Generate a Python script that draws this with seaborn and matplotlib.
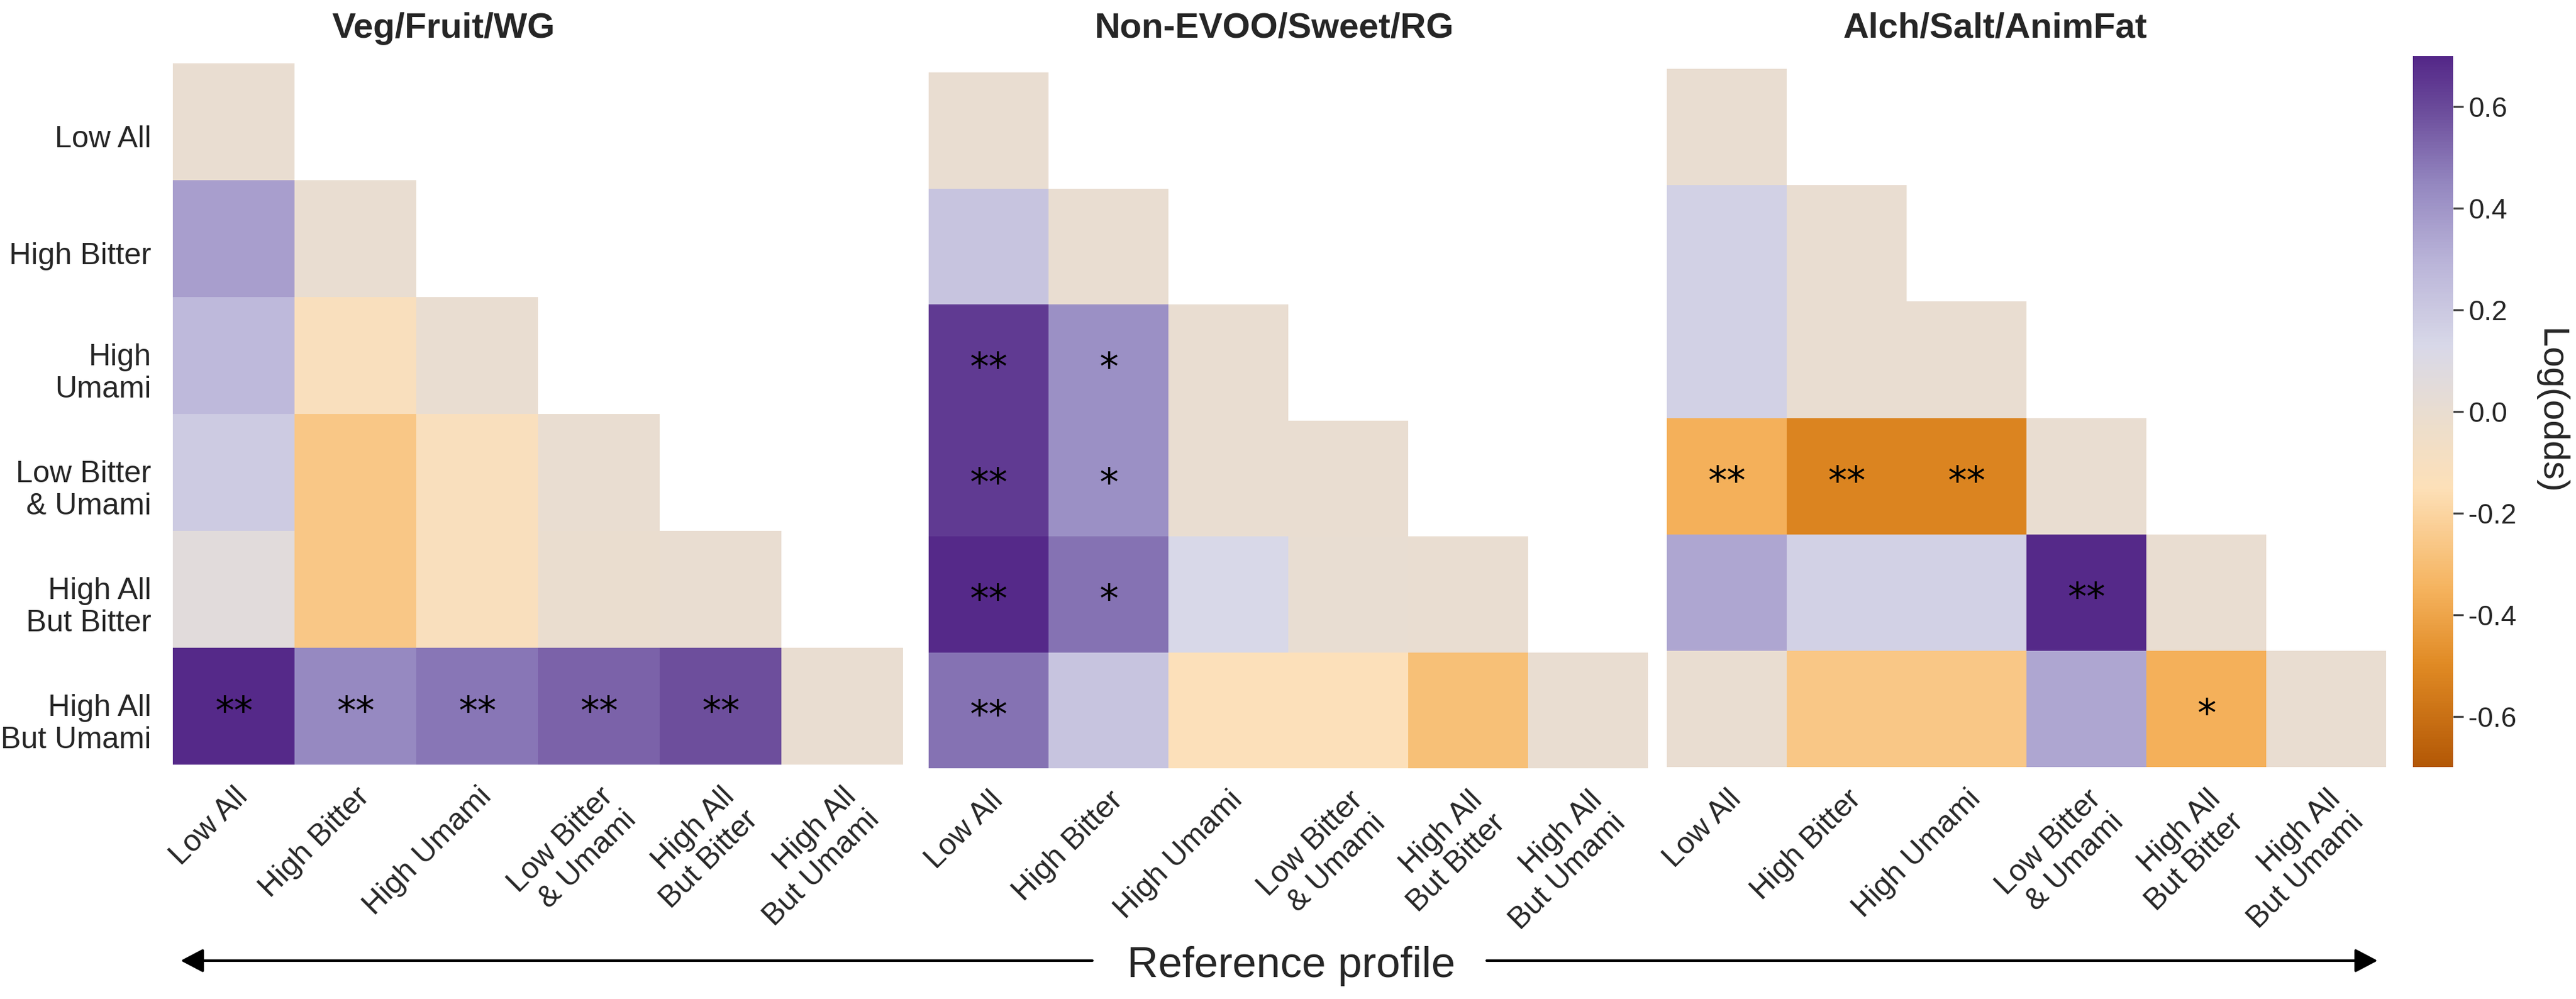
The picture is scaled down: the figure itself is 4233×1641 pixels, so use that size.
import matplotlib
matplotlib.use('Agg')
import matplotlib.pyplot as plt
import matplotlib.transforms as mtransforms
from matplotlib.colors import LinearSegmentedColormap
from matplotlib.patches import FancyArrowPatch
import seaborn as sns
import numpy as np
import pandas as pd

# Taste profiles (rows = compared profile, columns = reference profile)
PROFILES = ['Low All', 'High Bitter', 'High Umami', 'Low Bitter & Umami',
            'High All But Bitter', 'High All But Umami']
Y_LABELS = ['Low All', 'High Bitter', 'High\nUmami', 'Low Bitter\n& Umami',
            'High All\nBut Bitter', 'High All\nBut Umami']
X_LABELS = ['Low All', 'High Bitter', 'High Umami', 'Low Bitter\n& Umami',
            'High All\nBut Bitter', 'High All\nBut Umami']
PANEL_TITLES = ['Veg/Fruit/WG', 'Non-EVOO/Sweet/RG', 'Alch/Salt/AnimFat']

# Log(odds), lower triangle incl. diagonal
VEG_FRUIT_WG = [
    [0.0],
    [0.37, 0.0],
    [0.27, -0.12, 0.0],
    [0.19, -0.26, -0.12, 0.0],
    [0.06, -0.26, -0.12, -0.01, 0.0],
    [0.69, 0.44, 0.49, 0.54, 0.59, 0.0],
]
NON_EVOO_SWEET_RG = [
    [0.0],
    [0.22, 0.0],
    [0.64, 0.42, 0.0],
    [0.64, 0.42, 0.0, 0.0],
    [0.69, 0.50, 0.13, 0.01, 0.0],
    [0.50, 0.22, -0.14, -0.14, -0.29, 0.0],
]
ALCH_SALT_ANIMFAT = [
    [0.0],
    [0.16, 0.0],
    [0.16, 0.0, 0.0],
    [-0.36, -0.52, -0.52, 0.0],
    [0.34, 0.16, 0.16, 0.69, 0.0],
    [0.0, -0.26, -0.26, 0.34, -0.36, 0.0],
]

# Significance marks
VEG_FRUIT_WG_SIG = [
    [''],
    ['', ''],
    ['', '', ''],
    ['', '', '', ''],
    ['', '', '', '', ''],
    ['**', '**', '**', '**', '**', ''],
]
NON_EVOO_SWEET_RG_SIG = [
    [''],
    ['', ''],
    ['**', '*', ''],
    ['**', '*', '', ''],
    ['**', '*', '', '', ''],
    ['**', '', '', '', '', ''],
]
ALCH_SALT_ANIMFAT_SIG = [
    [''],
    ['', ''],
    ['', '', ''],
    ['**', '**', '**', ''],
    ['', '', '', '**', ''],
    ['', '', '', '', '*', ''],
]

CBAR_TICKS = [-0.6, -0.4, -0.2, 0.0, 0.2, 0.4, 0.6]
VMIN, VMAX = -0.7, 0.7

# orange -> beige -> purple, close to the original palette
CMAP_NODES = [(-0.7, '#b35806'), (-0.5, '#e08a24'), (-0.35, '#f5b35e'),
              (-0.15, '#fde0b8'), (0.0, '#e9ddd0'), (0.13, '#d8d8e8'),
              (0.3, '#b9b3d8'), (0.45, '#9487c0'), (0.6, '#6a4a9a'),
              (0.7, '#542788')]
CMAP = LinearSegmentedColormap.from_list(
    'taste', [((v - VMIN) / (VMAX - VMIN), c) for v, c in CMAP_NODES])


def lower_frame(rows):
    mat = np.full((len(PROFILES), len(PROFILES)), np.nan)
    for i, row in enumerate(rows):
        mat[i, :len(row)] = row
    return pd.DataFrame(mat, index=PROFILES, columns=PROFILES)


sns.set_theme(style='white')
plt.rcParams['font.family'] = ['Liberation Sans', 'DejaVu Sans']
plt.rcParams['axes.unicode_minus'] = False

W, H = 4233, 1641
fig = plt.figure(figsize=(W / 300, H / 300), dpi=300)

# axes boxes in pixels: x0, y0 (top), x1, y1 (bottom)
boxes = [(284, 104, 1484, 1256), (1526, 119, 2708, 1262), (2739, 113, 3921, 1260)]
title_x = [729, 2093, 3278]
cax = fig.add_axes([3965 / W, 1 - 1260 / H, 66 / W, 1168 / H])

panels = [(VEG_FRUIT_WG, VEG_FRUIT_WG_SIG),
          (NON_EVOO_SWEET_RG, NON_EVOO_SWEET_RG_SIG),
          (ALCH_SALT_ANIMFAT, ALCH_SALT_ANIMFAT_SIG)]

cbar = None
for k, ((vals, sig), (x0, y0, x1, y1)) in enumerate(zip(panels, boxes)):
    ax = fig.add_axes([x0 / W, 1 - y1 / H, (x1 - x0) / W, (y1 - y0) / H])
    df = lower_frame(vals)
    last = (k == len(panels) - 1)
    sns.heatmap(df, ax=ax, cmap=CMAP, vmin=VMIN, vmax=VMAX, linewidths=0,
                cbar=last, cbar_ax=cax if last else None,
                cbar_kws={'ticks': CBAR_TICKS} if last else None,
                xticklabels=X_LABELS, yticklabels=Y_LABELS if k == 0 else False)
    if last:
        cbar = ax.collections[0].colorbar

    for i, row in enumerate(sig):
        for j, s in enumerate(row):
            if s:
                ax.text(j + 0.5, i + 0.56, s, ha='center', va='center',
                        fontsize=15, family='DejaVu Sans', color='black')

    ax.tick_params(axis='both', length=0)
    ax.tick_params(axis='x', pad=7)
    ax.tick_params(axis='y', pad=8.5)
    plt.setp(ax.get_xticklabels(), rotation=45, ha='right',
             rotation_mode='anchor', fontsize=12)
    if k == 0:
        shift = mtransforms.ScaledTranslation(0, -7 / 72, fig.dpi_scale_trans)
        for lab in ax.get_yticklabels():
            lab.set_rotation(0)
            lab.set_fontsize(12)
            lab.set_ha('right')
            lab.set_multialignment('right')
            lab.set_transform(lab.get_transform() + shift)
    ax.set_xlabel('')
    ax.set_ylabel('')

    fig.text(title_x[k] / W, 1 - 62 / H, PANEL_TITLES[k], ha='center',
             va='baseline', fontsize=14, fontweight='bold')

cbar.outline.set_visible(False)
cax.tick_params(labelsize=11, length=4, width=0.8, color='#444444', pad=2)
cbar.set_label('Log(odds)', rotation=270, fontsize=14.5, labelpad=20)

# bottom arrow with the axis caption
arrow_y = 1 - 1578 / H
arrow_kw = dict(arrowstyle='-|>,head_length=0.38,head_width=0.2',
                color='black', lw=1.0, mutation_scale=20, shrinkA=0, shrinkB=0)
fig.add_artist(FancyArrowPatch((1795 / W, arrow_y), (297 / W, arrow_y),
                               transform=fig.transFigure, **arrow_kw))
fig.add_artist(FancyArrowPatch((2443 / W, arrow_y), (3907 / W, arrow_y),
                               transform=fig.transFigure, **arrow_kw))
fig.text(2122 / W, 1 - 1605 / H, 'Reference profile', ha='center', va='baseline',
         fontsize=17)

fig.savefig('out.png', dpi=300)
